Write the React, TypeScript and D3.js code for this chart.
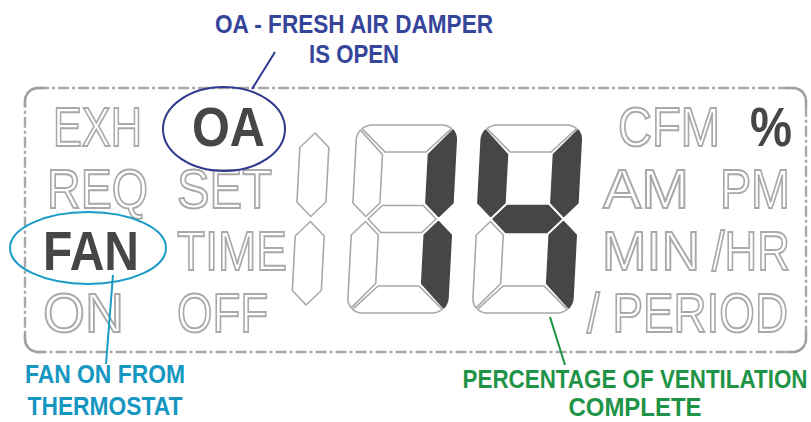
import React from "react";
import * as d3 from "d3";

// LCD legends, by column / row
const leftColA = ["EXH", "REQ", "FAN", "ON"];
const leftColB = ["OA", "SET", "TIME", "OFF"];
const rightRows = [["CFM", "%"], ["AM", "PM"], ["MIN", "/HR"], ["/ PERIOD"]];
const litLabels = ["OA", "FAN", "%"];

// segments that are on, per digit position (half digit, tens, units) -> "14"
const digitSegments = ["", "bc", "bcfg"];
const halfDigitSegments = ["b", "c"];

// callouts
const calloutOA = ["OA - FRESH AIR DAMPER", "IS OPEN"];
const calloutFan = ["FAN ON FROM", "THERMOSTAT"];
const calloutPct = ["PERCENTAGE OF VENTILATION", "COMPLETE"];

// layout of the legend words: [left x, width]
const labelBox: Record<string, [number, number]> = {
  EXH: [53, 89], REQ: [47, 101], FAN: [43, 96], ON: [43, 81],
  OA: [192, 73], SET: [177, 95], TIME: [177, 110], OFF: [177, 91],
  CFM: [618, 102], "%": [750, 42], AM: [603, 86], PM: [720, 70],
  MIN: [602, 98], "/HR": [712, 78], "/ PERIOD": [587, 201],
};

const W = 811;
const H = 422;

const rowY = d3.scaleLinear().domain([0, 3]).range([146, 332]);
const digitX = d3.scaleLinear().domain([1, 2]).range([357, 482]);

const DW = 100, DH = 188, DT = 27, GAP = 2.5, DTOP = 125, RND = 15;

type Pt = [number, number];

function arc(cx: number, cy: number, r: number, a0: number, a1: number, n = 6): Pt[] {
  return d3.range(n + 1).map((i) => {
    const a = ((a0 + ((a1 - a0) * i) / n) * Math.PI) / 180;
    return [cx + r * Math.cos(a), cy + r * Math.sin(a)] as Pt;
  });
}

function segmentPoints(w: number, hgt: number, t: number, g: number, R: number) {
  const h = t / 2, m = hgt / 2;
  return {
    a: [...arc(R, R, R, 229, 270), ...arc(w - R, R, R, 270, 311), [w - t - g, t], [t + g, t]],
    b: [...arc(w - R, R, R, 319, 360), [w, m - h - g], [w - h, m - g], [w - t, m - h - g], [w - t, t + g]],
    c: [[w, m + h + g], ...arc(w - R, hgt - R, R, 0, 41), [w - t, hgt - t - g], [w - t, m + h + g], [w - h, m + g]],
    d: [...arc(w - R, hgt - R, R, 49, 90), ...arc(R, hgt - R, R, 90, 131), [t + g, hgt - t], [w - t - g, hgt - t]],
    e: [...arc(R, hgt - R, R, 139, 180), [0, m + h + g], [h, m + g], [t, m + h + g], [t, hgt - t - g]],
    f: [...arc(R, R, R, 180, 221), [t, t + g], [t, m - h - g], [h, m - g], [0, m - h - g]],
    g: [[h + g, m], [t + g, m - h], [w - t - g, m - h], [w - h - g, m], [w - t - g, m + h], [t + g, m + h]],
  } as Record<string, Pt[]>;
}

function halfPoints(t: number, hgt: number, g: number) {
  const h = t / 2, m = hgt / 2;
  return {
    b: [[h, 8], [t, h + 8], [t, m - h - g], [h, m - g], [0, m - h - g], [0, h + 8]],
    c: [[h, m + g], [t, m + h + g], [t, hgt - h - 8], [h, hgt - 8], [0, hgt - h - 8], [0, m + h + g]],
  } as Record<string, Pt[]>;
}

const poly = d3.line();
const LIT = "#464646";
const OFF_STROKE = "#a9a9a9";

// condensed look: smaller font stretched vertically
const LABEL_FS = 46, LABEL_SY = 56 / 46;
const CALL_FS = 20, CALL_SY = 1.25;

function Label({ text, row }: { text: string; row: number }) {
  const [x, w] = labelBox[text];
  const lit = litLabels.includes(text);
  return (
    <g transform={`translate(${x},${rowY(row)}) scale(1,${LABEL_SY})`}>
      <text
        x={0}
        y={0}
        textLength={w}
        lengthAdjust="spacingAndGlyphs"
        fontFamily="Liberation Sans, Arial, sans-serif"
        fontWeight={lit ? 700 : 400}
        fontSize={LABEL_FS}
        fill={lit ? LIT : "#fff"}
        stroke={lit ? "none" : OFF_STROKE}
        strokeWidth={1.6}
      >
        {text}
      </text>
    </g>
  );
}

function Callout({ lines, cx, ys, widths, color }: { lines: string[]; cx: number; ys: number[]; widths: number[]; color: string }) {
  return (
    <g fontFamily="Liberation Sans, Arial, sans-serif" fontWeight={700} fontSize={CALL_FS} fill={color} textAnchor="middle">
      {lines.map((l, i) => (
        <g key={l} transform={`translate(${cx},${ys[i]}) scale(1,${CALL_SY})`}>
          <text x={0} y={0} textLength={widths[i]} lengthAdjust="spacingAndGlyphs">
            {l}
          </text>
        </g>
      ))}
    </g>
  );
}

export default function App() {
  const segs = segmentPoints(DW, DH, DT, GAP, RND);
  const half = halfPoints(29, DH, GAP);
  const skew = "skewX(-3)";

  // frame
  const fx = 25, fy = 88, fw = 781, fh = 264, r = 13;
  const corners = d3.path();
  corners.moveTo(fx, fy + r + 6);
  corners.lineTo(fx, fy + r);
  corners.arcTo(fx, fy, fx + r, fy, r);
  corners.lineTo(fx + r + 6, fy);
  corners.moveTo(fx + fw - r - 6, fy);
  corners.lineTo(fx + fw - r, fy);
  corners.arcTo(fx + fw, fy, fx + fw, fy + r, r);
  corners.lineTo(fx + fw, fy + r + 6);
  corners.moveTo(fx + fw, fy + fh - r - 6);
  corners.lineTo(fx + fw, fy + fh - r);
  corners.arcTo(fx + fw, fy + fh, fx + fw - r, fy + fh, r);
  corners.lineTo(fx + fw - r - 6, fy + fh);
  corners.moveTo(fx + r + 6, fy + fh);
  corners.lineTo(fx + r, fy + fh);
  corners.arcTo(fx, fy + fh, fx, fy + fh - r, r);
  corners.lineTo(fx, fy + fh - r - 6);

  return (
    <svg width={W} height={H} style={{ position: "absolute", left: 0, top: 0, background: "#fff" }}>
      {/* frame */}
      <rect x={fx} y={fy} width={fw} height={fh} rx={r} fill="none" stroke="#a8a8a8" strokeWidth={2.4} strokeDasharray="11 3 3 3" />
      <path d={corners.toString()} fill="none" stroke="#a0a0a0" strokeWidth={2.4} />

      {/* legends */}
      {leftColA.map((t, i) => <Label key={t} text={t} row={i} />)}
      {leftColB.map((t, i) => <Label key={t} text={t} row={i} />)}
      {rightRows.map((row, i) => row.map((t) => <Label key={t} text={t} row={i} />))}

      {/* half digit */}
      <g transform={`translate(${digitX(1) - 56},${DTOP}) ${skew}`}>
        {halfDigitSegments.map((k) => {
          const on = digitSegments[0].includes(k);
          return (
            <path key={k} d={poly(half[k]) + "Z"} fill={on ? LIT : "#fff"} stroke={on ? LIT : OFF_STROKE} strokeWidth={1.6} strokeLinejoin="round" />
          );
        })}
      </g>

      {/* full digits */}
      {[1, 2].map((di) => (
        <g key={di} transform={`translate(${digitX(di)},${DTOP}) ${skew}`}>
          {Object.keys(segs).map((k) => {
            const on = digitSegments[di].includes(k);
            return (
              <path key={k} d={poly(segs[k]) + "Z"} fill={on ? LIT : "#fff"} stroke={on ? LIT : OFF_STROKE} strokeWidth={1.6} strokeLinejoin="round" />
            );
          })}
        </g>
      ))}

      {/* OA callout */}
      <ellipse cx={224} cy={129} rx={61} ry={42} fill="none" stroke="#2f3a8e" strokeWidth={2} />
      <line x1={252} y1={89} x2={275} y2={52} stroke="#2f3a8e" strokeWidth={2} />
      <Callout lines={calloutOA} cx={354} ys={[33, 63]} widths={[278, 90]} color="#35459a" />

      {/* FAN callout */}
      <ellipse cx={88} cy={248} rx={78} ry={36} fill="none" stroke="#1a9bc6" strokeWidth={2} />
      <line x1={113} y1={275} x2={106} y2={364} stroke="#1a9bc6" strokeWidth={2} />
      <Callout lines={calloutFan} cx={105} ys={[383, 415]} widths={[160, 155]} color="#1597c2" />

      {/* percentage callout */}
      <line x1={550} y1={317} x2={565} y2={365} stroke="#1f9447" strokeWidth={2} />
      <Callout lines={calloutPct} cx={635} ys={[388, 416]} widths={[345, 133]} color="#1f9447" />
    </svg>
  );
}
